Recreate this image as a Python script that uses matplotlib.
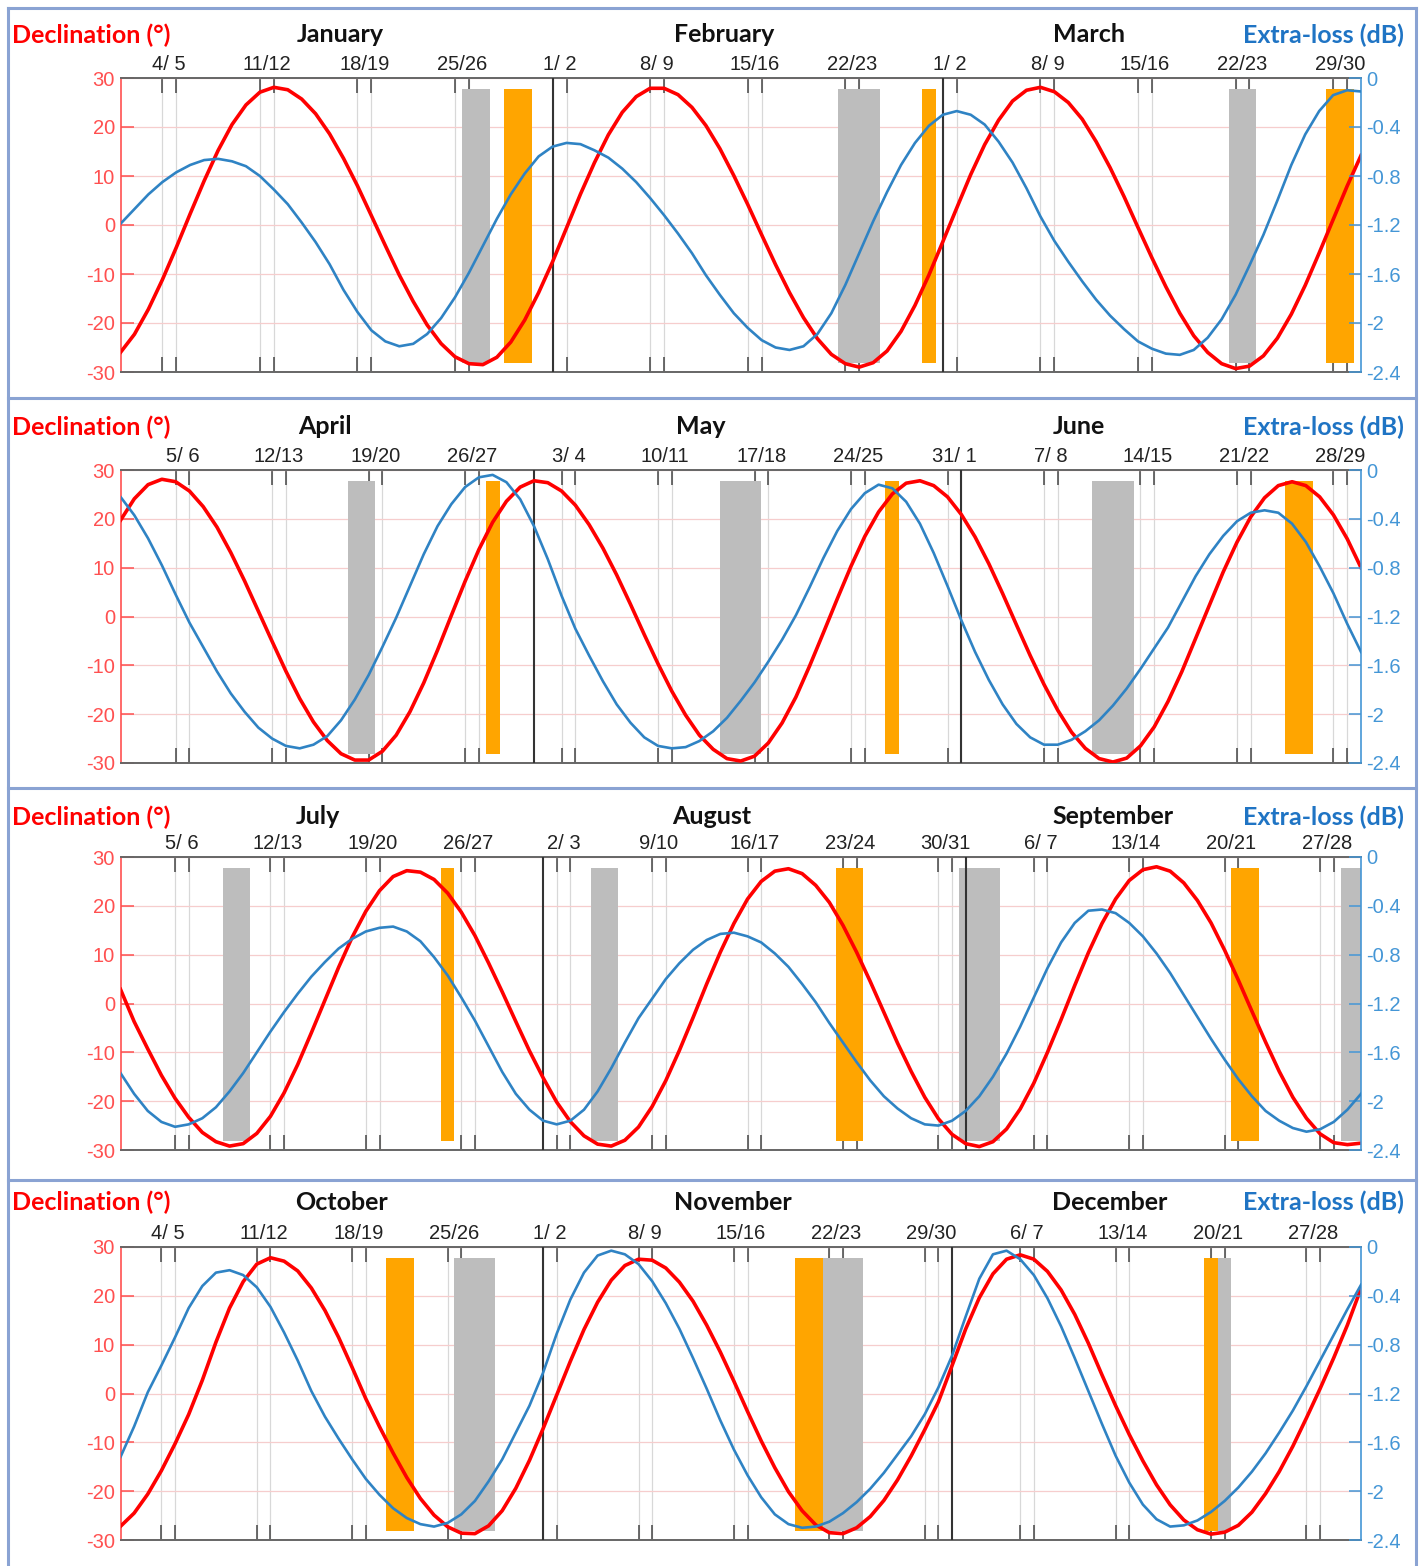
import matplotlib
matplotlib.use("Agg")
import matplotlib.pyplot as plt
import matplotlib.transforms as mtransforms
from matplotlib.lines import Line2D
import numpy as np

# ---------------- data ----------------
months = [["January", "February", "March"],
          ["April", "May", "June"],
          ["July", "August", "September"],
          ["October", "November", "December"]]
ndays = [90, 91, 92, 92]
month_starts = [[32, 60], [31, 62], [32, 63], [32, 62]]
month_label_day = [[16.8, 44.3, 70.5], [15.8, 43.1, 70.5],
                   [15.5, 44.4, 73.8], [17.2, 45.9, 73.6]]

weekend_first_day = [[4, 11, 18, 25, 32, 39, 46, 53, 60, 67, 74, 81, 88],
                     [5, 12, 19, 26, 33, 40, 47, 54, 61, 68, 75, 82, 89],
                     [5, 12, 19, 26, 33, 40, 47, 54, 61, 68, 75, 82, 89],
                     [4, 11, 18, 25, 32, 39, 46, 53, 60, 67, 74, 81, 88]]
weekend_labels = [["4/ 5", "11/12", "18/19", "25/26", "1/ 2", "8/ 9", "15/16", "22/23", "1/ 2", "8/ 9", "15/16", "22/23", "29/30"],
                  ["5/ 6", "12/13", "19/20", "26/27", "3/ 4", "10/11", "17/18", "24/25", "31/ 1", "7/ 8", "14/15", "21/22", "28/29"],
                  ["5/ 6", "12/13", "19/20", "26/27", "2/ 3", "9/10", "16/17", "23/24", "30/31", "6/ 7", "13/14", "20/21", "27/28"],
                  ["4/ 5", "11/12", "18/19", "25/26", "1/ 2", "8/ 9", "15/16", "22/23", "29/30", "6/ 7", "13/14", "20/21", "27/28"]]

q1_declination = [-26.0, -22.3, -17.2, -11.2, -4.6, 2.3, 9.0, 15.2, 20.5, 24.5, 27.1, 28.1,
                  27.6, 25.7, 22.7, 18.6, 13.6, 8.0, 1.9, -4.2, -10.2, -15.6, -20.4, -24.2, -26.9, -28.3,
                  -28.5, -27.0, -23.9, -19.4, -13.8, -7.5, -0.6, 6.3, 12.7, 18.4, 23.0, 26.2, 27.9,
                  27.9, 26.6, 24.0, 20.3, 15.6, 10.1, 4.2, -2.0, -8.1, -13.8, -18.9, -23.2, -26.4, -28.3, -29.0,
                  -28.1, -25.7, -21.7, -16.4, -10.2, -3.4, 3.5, 10.3, 16.4, 21.4, 25.3, 27.5,
                  28.1, 27.2, 25.0, 21.6, 17.0, 11.7, 5.8, -0.5, -6.7, -12.6, -18.0, -22.6, -26.0, -28.3, -29.3,
                  -28.8, -26.7, -23.1, -18.2, -12.3, -5.7, 1.1, 7.9, 14.2]
q1_extraloss = [-1.19, -1.07, -0.95, -0.85, -0.77, -0.71, -0.67, -0.66,
                -0.68, -0.72, -0.80, -0.91, -1.03, -1.18, -1.34, -1.52, -1.73, -1.91, -2.06, -2.15, -2.19,
                -2.17, -2.09, -1.96, -1.79, -1.59, -1.37, -1.15, -0.95, -0.78, -0.64, -0.56, -0.53,
                -0.54, -0.59, -0.65, -0.74, -0.85, -0.98, -1.12, -1.27, -1.43, -1.61, -1.77, -1.92, -2.04, -2.14, -2.20, -2.22,
                -2.19, -2.09, -1.92, -1.69, -1.43, -1.17, -0.93, -0.71, -0.53, -0.39, -0.30,
                -0.27, -0.30, -0.38, -0.52, -0.69, -0.90, -1.13, -1.33, -1.50, -1.66, -1.81, -1.94, -2.05, -2.15, -2.21, -2.25,
                -2.26, -2.22, -2.12, -1.97, -1.77, -1.53, -1.28, -1.00, -0.71, -0.46, -0.27, -0.14, -0.10, -0.11]

q2_declination = [19.7, 24.1, 27.0, 28.1,
                  27.6, 25.7, 22.5, 18.3, 13.1, 7.3, 1.1, -5.1, -11.2, -16.8, -21.6, -25.4, -28.1, -29.4,
                  -29.4, -27.6, -24.3, -19.5, -13.6, -6.9, 0.2, 7.2, 13.7, 19.3, 23.6, 26.5, 27.8,
                  27.4, 25.7, 22.8, 18.8, 14.0, 8.5, 2.5, -3.7, -9.7, -15.3, -20.2, -24.3, -27.2, -29.1,
                  -29.6, -28.6, -25.9, -21.8, -16.5, -10.1, -3.3, 3.6, 10.3, 16.4, 21.4, 25.1, 27.3,
                  27.8, 26.8, 24.5, 20.9, 16.3, 10.8, 4.7, -1.7, -8.0, -13.9, -19.2, -23.7, -27.0, -29.1,
                  -29.8, -29.0, -26.5, -22.6, -17.4, -11.3, -4.5, 2.3, 9.1, 15.2, 20.4, 24.3, 26.8, 27.6,
                  26.8, 24.5, 20.8, 15.9, 10.0]
q2_extraloss = [-0.22, -0.37, -0.56, -0.78, -1.02, -1.25, -1.45, -1.65, -1.83, -1.98, -2.11, -2.20, -2.26, -2.28,
                -2.25, -2.18, -2.05, -1.88, -1.68, -1.45, -1.21, -0.95, -0.69, -0.46, -0.28, -0.14, -0.06,
                -0.04, -0.10, -0.24, -0.46, -0.73, -1.03, -1.30, -1.52, -1.73, -1.92, -2.07, -2.19, -2.26, -2.28,
                -2.27, -2.22, -2.14, -2.03, -1.89, -1.74, -1.57, -1.39, -1.19, -0.96, -0.72, -0.50, -0.32, -0.19, -0.12,
                -0.15, -0.26, -0.44, -0.68, -0.95, -1.23, -1.49, -1.72, -1.92, -2.08, -2.19, -2.25,
                -2.25, -2.21, -2.14, -2.05, -1.93, -1.79, -1.63, -1.46, -1.29, -1.08, -0.87, -0.69, -0.54, -0.42, -0.35, -0.33,
                -0.35, -0.44, -0.59, -0.79, -1.01, -1.26, -1.49]

q3_declination = [2.9, -3.7, -9.3, -14.7, -19.4, -23.3, -26.4, -28.3, -29.2,
                  -28.7, -26.6, -23.1, -18.3, -12.5, -6.0, 0.7, 7.4, 13.6, 18.9, 23.1, 26.0, 27.2,
                  26.9, 25.4, 22.6, 18.7, 13.9, 8.3, 2.4, -3.7, -9.7, -15.2, -20.2, -24.2, -27.1, -28.8,
                  -29.2, -28.0, -25.3, -21.1, -15.8, -9.6, -2.9, 4.0, 10.5, 16.4, 21.4, 25.0, 27.1,
                  27.6, 26.6, 24.2, 20.7, 16.0, 10.5, 4.5, -1.8, -8.1, -13.9, -19.2, -23.6, -26.8, -28.7,
                  -29.3, -28.3, -25.7, -21.6, -16.3, -10.0, -3.3, 3.7, 10.4, 16.4, 21.4, 25.2, 27.4,
                  28.0, 27.1, 24.7, 21.1, 16.5, 10.9, 4.8, -1.6, -7.9, -13.9, -19.2, -23.5, -26.7, -28.5,
                  -28.9, -28.6]
q3_extraloss = [-1.77, -1.94, -2.08, -2.17, -2.21,
                -2.19, -2.14, -2.05, -1.92, -1.77, -1.60, -1.43, -1.27, -1.12, -0.98, -0.86, -0.75, -0.67, -0.61, -0.58,
                -0.57, -0.61, -0.69, -0.82, -0.97, -1.15, -1.34, -1.55, -1.76, -1.94, -2.07, -2.16, -2.19,
                -2.16, -2.07, -1.92, -1.73, -1.52, -1.32, -1.16, -1.00, -0.87, -0.76, -0.68, -0.63,
                -0.62, -0.65, -0.70, -0.79, -0.90, -1.04, -1.19, -1.36, -1.52, -1.68, -1.83, -1.96, -2.06, -2.14, -2.19,
                -2.20, -2.16, -2.08, -1.96, -1.80, -1.61, -1.39, -1.15, -0.91, -0.70, -0.54, -0.44,
                -0.43, -0.46, -0.54, -0.65, -0.79, -0.95, -1.13, -1.31, -1.49, -1.66, -1.82, -1.96, -2.08, -2.16, -2.22, -2.25,
                -2.23, -2.17, -2.07, -1.94]

q4_declination = [-27.2, -24.5, -20.6, -15.8, -10.3, -4.3, 2.7, 10.5, 17.5, 22.9, 26.5, 27.8,
                  27.1, 25.1, 21.6, 17.0, 11.5, 5.3, -1.1, -6.8, -12.2, -17.2, -21.5, -24.9, -27.3, -28.6,
                  -28.7, -27.1, -24.0, -19.4, -13.7, -7.2, -0.3, 6.6, 13.1, 18.7, 23.2, 26.2, 27.5,
                  27.3, 25.7, 22.8, 18.9, 14.0, 8.5, 2.5, -3.7, -9.7, -15.2, -20.1, -24.0, -26.9, -28.5,
                  -28.7, -27.5, -25.2, -21.9, -17.7, -12.8, -7.4, -1.7, 5.7, 13.2, 19.6, 24.5, 27.5,
                  28.4, 27.5, 25.0, 21.2, 16.2, 10.3, 3.8, -2.5, -8.4, -13.8, -18.7, -22.8, -25.9, -27.9, -28.8,
                  -28.4, -27.0, -24.3, -20.5, -16.0, -10.8, -5.0, 1.0, 7.3, 14.0, 21.5]
q4_extraloss = [-1.72, -1.47, -1.19, -0.97, -0.74, -0.50, -0.32, -0.21,
                -0.19, -0.23, -0.33, -0.49, -0.70, -0.93, -1.18, -1.39, -1.57, -1.74, -1.90, -2.03, -2.14, -2.22, -2.27, -2.29,
                -2.26, -2.19, -2.08, -1.92, -1.74, -1.52, -1.30, -1.03, -0.71, -0.43, -0.21, -0.07, -0.03,
                -0.06, -0.14, -0.28, -0.46, -0.67, -0.91, -1.16, -1.42, -1.66, -1.87, -2.05, -2.19, -2.27, -2.30,
                -2.29, -2.25, -2.18, -2.09, -1.98, -1.85, -1.70, -1.55, -1.37, -1.15, -0.89, -0.57, -0.26, -0.06,
                -0.03, -0.10, -0.23, -0.42, -0.65, -0.91, -1.18, -1.45, -1.71, -1.93, -2.11, -2.23, -2.29,
                -2.28, -2.24, -2.17, -2.08, -1.97, -1.84, -1.69, -1.52, -1.34, -1.14, -0.93, -0.72, -0.51, -0.31]

# shaded periods (day of quarter, start / end)
q1_gray_start, q1_gray_end = [25.5, 52.5, 80.5], [27.5, 55.5, 82.5]
q1_orange_start, q1_orange_end = [28.5, 58.5, 87.5], [30.5, 59.5, 89.5]
q2_gray_start, q2_gray_end = [17.5, 44.5, 71.5], [19.5, 47.5, 74.5]
q2_orange_start, q2_orange_end = [27.5, 56.5, 85.5], [28.5, 57.5, 87.5]
q3_gray_start, q3_gray_end = [8.5, 35.5, 62.5, 90.5], [10.5, 37.5, 65.5, 92.5]
q3_orange_start, q3_orange_end = [24.5, 53.5, 82.5], [25.5, 55.5, 84.5]
q4_gray_start, q4_gray_end = [25.5, 52.5, 81.5], [28.5, 55.5, 82.5]
q4_orange_start, q4_orange_end = [20.5, 50.5, 80.5], [22.5, 52.5, 81.5]

declination = [q1_declination, q2_declination, q3_declination, q4_declination]
extraloss = [q1_extraloss, q2_extraloss, q3_extraloss, q4_extraloss]
gray_bars = [(q1_gray_start, q1_gray_end), (q2_gray_start, q2_gray_end),
             (q3_gray_start, q3_gray_end), (q4_gray_start, q4_gray_end)]
orange_bars = [(q1_orange_start, q1_orange_end), (q2_orange_start, q2_orange_end),
               (q3_orange_start, q3_orange_end), (q4_orange_start, q4_orange_end)]
bar_low, bar_high = -28.1, 27.8

left_ticks = [-30, -20, -10, 0, 10, 20, 30]
left_ticklabels = ["-30", "-20", "-10", "0", "10", "20", "30"]
right_ticks = [-2.4, -2.0, -1.6, -1.2, -0.8, -0.4, 0.0]
right_ticklabels = ["-2.4", "-2", "-1.6", "-1.2", "-0.8", "-0.4", "0"]

# ---------------- layout ----------------
W, H = 1424, 1566
fig = plt.figure(figsize=(W / 100, H / 100), dpi=100)
fig.patch.set_facecolor("white")


def fx(px):
    return px / W


def fy(py):
    return 1 - py / H


AX_L, AX_R = 120.5, 1361
tops = [78, 470, 857, 1247]
bots = [372, 763, 1150, 1540]
title_rows = [35, 427, 817, 1202]

RED = "#ff0000"
RED_AX = "#ff5050"
BLUE = "#2f83c4"
BLUE_AX = "#4496d6"
BLUE_TXT = "#1f74c4"
TXT_FONT = ["Lato", "DejaVu Sans"]
TICK_FONT = ["Liberation Sans", "DejaVu Sans"]
HDR_SIZE = 18

for i in range(4):
    top, bot = tops[i], bots[i]
    N = ndays[i]
    days = np.arange(1, N + 1)
    ax = fig.add_axes([fx(AX_L), fy(bot), fx(AX_R) - fx(AX_L), (bot - top) / H])
    ax.set_xlim(1, N)
    ax.set_ylim(-30, 30)
    ax.set_facecolor("white")

    # grids
    ax.set_yticks(left_ticks)
    ax.set_yticklabels(left_ticklabels, fontfamily=TICK_FONT)
    ax.yaxis.grid(True, color="#f6cdcd", lw=0.9, zorder=0)
    wk = []
    for d in weekend_first_day[i]:
        wk += [d, d + 1]
    wk = [d for d in wk if d <= N]
    ax.set_xticks(wk, minor=True)
    ax.set_xticks([d + 0.5 for d in weekend_first_day[i]])
    ax.set_xticklabels(weekend_labels[i], fontfamily=TICK_FONT)
    ax.xaxis.grid(True, which="minor", color="#d8d8d8", lw=0.9, zorder=0)
    ax.xaxis.grid(False, which="major")
    ax.set_axisbelow(True)

    ax.tick_params(axis="x", which="minor", direction="in", length=11, width=1.1,
                   color="#444444", top=True, bottom=True)
    ax.tick_params(axis="x", which="major", length=0, top=True, bottom=False,
                   labeltop=True, labelbottom=False, pad=3, labelsize=14.5,
                   labelcolor="#222222")
    ax.tick_params(axis="y", which="major", direction="in", length=9, width=1.1,
                   color=RED_AX, labelcolor=RED_AX, labelsize=14.5, pad=4,
                   left=True, right=False)

    for s in ["top", "bottom"]:
        ax.spines[s].set_color("#666666")
        ax.spines[s].set_linewidth(1.4)
    ax.spines["left"].set_color(RED_AX)
    ax.spines["left"].set_linewidth(1.2)
    ax.spines["right"].set_visible(False)

    # shaded periods
    gs, ge = gray_bars[i]
    ax.bar(gs, bar_high - bar_low, width=np.array(ge) - np.array(gs), bottom=bar_low,
           align="edge", color="#bdbdbd", lw=0, zorder=2)
    os_, oe = orange_bars[i]
    ax.bar(os_, bar_high - bar_low, width=np.array(oe) - np.array(os_), bottom=bar_low,
           align="edge", color="#ffa500", lw=0, zorder=2)

    # month boundaries
    for d in month_starts[i]:
        ax.axvline(d, color="#333333", lw=1.5, zorder=3)

    # declination
    ax.plot(days, declination[i], color=RED, lw=2.6, zorder=4, solid_joinstyle="round")

    # extra-loss on right axis
    ax2 = ax.twinx()
    ax2.set_ylim(-2.4, 0)
    ax2.set_yticks(right_ticks)
    ax2.set_yticklabels(right_ticklabels, fontfamily=TICK_FONT)
    ax2.tick_params(axis="y", direction="in", length=9, width=1.1, color=BLUE_AX,
                    labelcolor=BLUE_AX, labelsize=14.5, pad=4)
    for s in ["top", "bottom", "left"]:
        ax2.spines[s].set_visible(False)
    ax2.spines["right"].set_color(BLUE_AX)
    ax2.spines["right"].set_linewidth(1.2)
    ax2.plot(days, extraloss[i], color=BLUE, lw=1.9, zorder=5, solid_joinstyle="round")

    # header row
    ty = fy(title_rows[i])
    fig.text(fx(12), ty, "Declination (°)", color=RED, fontsize=HDR_SIZE,
             fontweight="bold", family=TXT_FONT, ha="left", va="center")
    fig.text(fx(1404), ty, "Extra-loss (dB)", color=BLUE_TXT, fontsize=HDR_SIZE,
             fontweight="bold", family=TXT_FONT, ha="right", va="center")
    trans = mtransforms.blended_transform_factory(ax.transData, fig.transFigure)
    for name, d in zip(months[i], month_label_day[i]):
        ax.text(d, ty, name, transform=trans, color="#111111", fontsize=HDR_SIZE,
                fontweight="bold", family=TXT_FONT, ha="center", va="center")

# panel frames
FRAME = "#8aa3d3"
for yy in [8, 398, 788, 1180]:
    fig.add_artist(Line2D([fx(8), fx(1416)], [fy(yy), fy(yy)], color=FRAME, lw=2.2))
for xx in [8, 1416]:
    fig.add_artist(Line2D([fx(xx), fx(xx)], [fy(8), fy(1566)], color=FRAME, lw=2.2))

fig.savefig("out.png", dpi=100, facecolor="white")
